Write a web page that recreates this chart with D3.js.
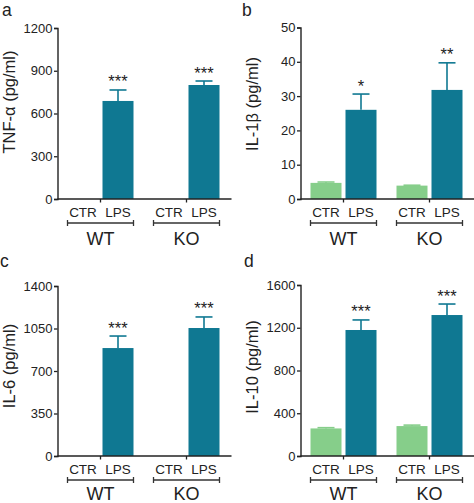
<!DOCTYPE html>
<html>
<head>
<meta charset="utf-8">
<script src="https://cdn.jsdelivr.net/npm/d3@7"></script>
<style>
  html, body { margin: 0; padding: 0; background: #fff; }
  svg { display: block; font-family: "Liberation Sans", Arial, Helvetica, sans-serif; }
</style>
</head>
<body>
<svg id="chart" width="474" height="503"></svg>
<script>
// ---- data ----
const groups = ["WT", "KO"];
const treatments = ["CTR", "LPS"];

const tnfMeans = [0, 688, 0, 800];
const tnfErr = [0, 77, 0, 28];
const tnfStars = ["", "***", "", "***"];
const tnfTicks = [0, 300, 600, 900, 1200];

const il1bMeans = [4.7, 26.0, 3.9, 31.8];
const il1bErr = [0.25, 4.6, 0.12, 7.9];
const il1bStars = ["", "*", "", "**"];
const il1bTicks = [0, 10, 20, 30, 40, 50];

const il6Means = [0, 889, 0, 1054];
const il6Err = [0, 99, 0, 91];
const il6Stars = ["", "***", "", "***"];
const il6Ticks = [0, 350, 700, 1050, 1400];

const il10Means = [258, 1179, 280, 1319];
const il10Err = [7, 94, 9, 103];
const il10Stars = ["", "***", "", "***"];
const il10Ticks = [0, 400, 800, 1200, 1600];

const panelLetters = ["a", "b", "c", "d"];
const yTitles = ["TNF-\u03b1 (pg/ml)", "IL-1\u03b2 (pg/ml)", "IL-6 (pg/ml)", "IL-10 (pg/ml)"];

// ---- style / layout ----
const teal = "#0f7892";
const green = "#86ce8a";
const ink = "#222";

const layout = [
  { ax: 57.5, top: 28, bottom: 199, letterX: 2, letterY: 15.5, titleY: 102, groupY: 245 },
  { ax: 300.5, top: 27.5, bottom: 199, letterX: 242, letterY: 15.5, titleY: 104, groupY: 245 },
  { ax: 57.5, top: 286, bottom: 456, letterX: 0, letterY: 267, titleY: 366, groupY: 500 },
  { ax: 300.5, top: 285, bottom: 456, letterX: 244, letterY: 267, titleY: 367, groupY: 500 }
];

const panelData = [
  { means: tnfMeans, err: tnfErr, stars: tnfStars, ticks: tnfTicks },
  { means: il1bMeans, err: il1bErr, stars: il1bStars, ticks: il1bTicks },
  { means: il6Means, err: il6Err, stars: il6Stars, ticks: il6Ticks },
  { means: il10Means, err: il10Err, stars: il10Stars, ticks: il10Ticks }
];

const svg = d3.select("#chart");

panelData.forEach((pd, i) => {
  const L = layout[i];
  const g = svg.append("g");

  const y = d3.scaleLinear()
    .domain([0, d3.max(pd.ticks)])
    .range([L.bottom, L.top]);

  const xGroup = d3.scaleBand()
    .domain(groups)
    .range([L.ax, L.ax + 172])
    .paddingInner(20 / 86)
    .paddingOuter(10 / 86);

  const xTreat = d3.scaleBand()
    .domain(treatments)
    .range([0, xGroup.bandwidth()])
    .paddingInner(4 / 35)
    .paddingOuter(0);

  const rows = [];
  groups.forEach((grp, gi) => {
    treatments.forEach((tr, ti) => {
      const k = gi * 2 + ti;
      rows.push({ grp, tr, mean: pd.means[k], err: pd.err[k], star: pd.stars[k] });
    });
  });

  // bars
  g.selectAll("rect.bar").data(rows).enter().append("rect")
    .attr("class", "bar")
    .attr("x", d => xGroup(d.grp) + xTreat(d.tr))
    .attr("width", xTreat.bandwidth())
    .attr("y", d => y(d.mean))
    .attr("height", d => y(0) - y(d.mean))
    .attr("fill", d => d.tr === "CTR" ? green : teal);

  // error bars (upper only)
  const eb = rows.filter(d => d.err > 0);
  const cx = d => xGroup(d.grp) + xTreat(d.tr) + xTreat.bandwidth() / 2;
  g.selectAll("line.estem").data(eb).enter().append("line")
    .attr("x1", cx).attr("x2", cx)
    .attr("y1", d => y(d.mean)).attr("y2", d => y(d.mean + d.err))
    .attr("stroke", d => d.tr === "CTR" ? green : teal)
    .attr("stroke-width", 1.6);
  g.selectAll("line.ecap").data(eb).enter().append("line")
    .attr("x1", d => cx(d) - 8.5).attr("x2", d => cx(d) + 8.5)
    .attr("y1", d => y(d.mean + d.err)).attr("y2", d => y(d.mean + d.err))
    .attr("stroke", d => d.tr === "CTR" ? green : teal)
    .attr("stroke-width", 1.6);

  // significance stars
  g.selectAll("text.star").data(rows.filter(d => d.star)).enter().append("text")
    .attr("x", cx)
    .attr("y", d => y(d.mean + d.err) - 2.5)
    .attr("text-anchor", "middle")
    .attr("font-size", 16.5)
    .attr("fill", ink)
    .text(d => d.star);

  // y axis
  const yAxis = d3.axisLeft(y).tickValues(pd.ticks).tickSize(3.5).tickPadding(1.5)
    .tickFormat(d3.format("d"));
  const ya = g.append("g").attr("transform", `translate(${L.ax},0)`).call(yAxis);
  ya.select(".domain").attr("stroke", ink).attr("stroke-width", 1.4);
  ya.selectAll(".tick line").attr("stroke", ink).attr("stroke-width", 1.3);
  ya.selectAll(".tick text").attr("font-size", 13).attr("fill", ink)
    .attr("font-family", "'Liberation Sans', Arial, sans-serif");

  // x axis baseline
  g.append("line")
    .attr("x1", L.ax).attr("x2", L.ax + 174)
    .attr("y1", y(0)).attr("y2", y(0))
    .attr("stroke", ink).attr("stroke-width", 1.4);
  // separator ticks between CTR and LPS
  groups.forEach(grp => {
    const tx = xGroup(grp) + xGroup.bandwidth() / 2;
    g.append("line")
      .attr("x1", tx).attr("x2", tx)
      .attr("y1", y(0)).attr("y2", y(0) + 3.5)
      .attr("stroke", ink).attr("stroke-width", 1.3);
  });

  // category labels
  g.selectAll("text.cat").data(rows).enter().append("text")
    .attr("x", cx)
    .attr("y", L.bottom + 18)
    .attr("text-anchor", "middle")
    .attr("font-size", 13.5)
    .attr("fill", ink)
    .text(d => d.tr);

  // brackets + group labels
  groups.forEach(grp => {
    const x0 = xGroup(grp), x1 = xGroup(grp) + xGroup.bandwidth();
    const by = L.bottom + 24;
    g.append("line").attr("x1", x0).attr("x2", x1).attr("y1", by).attr("y2", by)
      .attr("stroke", "#333").attr("stroke-width", 1.3);
    [x0, x1].forEach(xx => {
      g.append("line").attr("x1", xx).attr("x2", xx).attr("y1", by - 3).attr("y2", by + 3)
        .attr("stroke", "#333").attr("stroke-width", 1.3);
    });
    g.append("text")
      .attr("x", (x0 + x1) / 2)
      .attr("y", L.groupY)
      .attr("text-anchor", "middle")
      .attr("font-size", 18)
      .attr("fill", ink)
      .text(grp);
  });

  // y title
  g.append("text")
    .attr("transform", `translate(${L.ax - 43},${L.titleY}) rotate(-90)`)
    .attr("text-anchor", "middle")
    .attr("font-size", 16.5)
    .attr("fill", ink)
    .text(yTitles[i]);

  // panel letter
  g.append("text")
    .attr("x", L.letterX).attr("y", L.letterY)
    .attr("font-size", 17.5)
    .attr("fill", ink)
    .text(panelLetters[i]);
});
</script>
</body>
</html>
